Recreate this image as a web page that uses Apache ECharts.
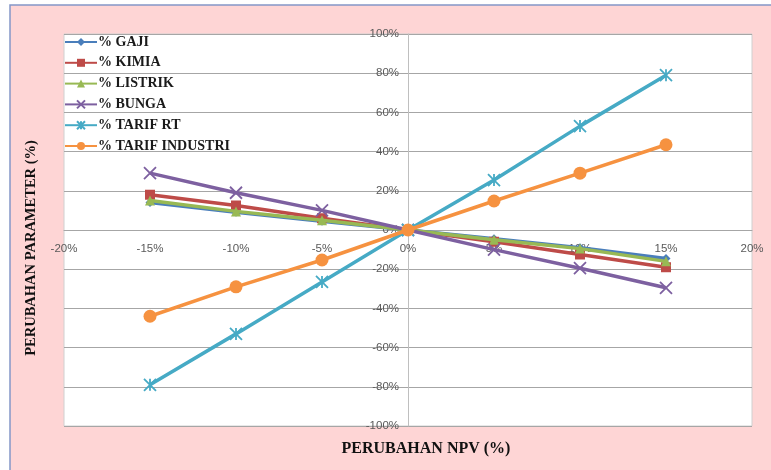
<!DOCTYPE html>
<html>
<head>
<meta charset="utf-8">
<script src="https://cdn.jsdelivr.net/npm/echarts@6/dist/echarts.min.js"></script>
<style>
  html, body { margin: 0; padding: 0; background: #ffffff; }
  #chart { width: 771px; height: 470px; }
</style>
</head>
<body>
<div id="chart"></div>
<script>
// NPV sensitivity: change in parameter (%) against change in NPV (%)
const npvChange = [-15, -10, -5, 0, 5, 10, 15];

const gaji          = [14, 9, 4.5, 0, -4.5, -9, -14.5];
const kimia         = [18, 12.5, 6, 0, -6, -12.5, -19];
const listrik       = [15, 9.5, 5, 0, -5, -9.5, -16];
const bunga         = [29, 19, 10, 0, -10, -19.5, -29.5];
const tarifRT       = [-79, -53, -26.5, 0, 25.5, 53, 79];
const tarifIndustri = [-44, -29, -15.3, 0, 14.8, 29, 43.5];

const seriesNames = ['% GAJI', '% KIMIA', '% LISTRIK', '% BUNGA', '% TARIF RT', '% TARIF INDUSTRI'];
const seriesValues = [gaji, kimia, listrik, bunga, tarifRT, tarifIndustri];
const seriesColors = ['#4A7EBB', '#BE4B48', '#98B954', '#7D60A0', '#46AAC5', '#F69240'];

const xPath = 'path://M0,0L10,10M10,0L0,10';
const starPath = 'path://M0,0L10,10M10,0L0,10M5,0L5,10';
const symbols = ['diamond', 'rect', 'triangle', xPath, starPath, 'circle'];
const symbolSizes = [9, 10, 10, 12, 12, 13];
const strokeOnly = [false, false, false, true, true, false];

// grid geometry; the axes cross at the origin of the value ranges
const gridLeft = 64, gridRight = 19, gridTop = 34, gridBottom = 44;
const W = 771, H = 470;
const xMin = -20, xMax = 20, yMin = -100, yMax = 100;
const plotW = W - gridLeft - gridRight, plotH = H - gridTop - gridBottom;
const yAxisShift = plotW * (0 - xMin) / (xMax - xMin);
const xAxisShift = plotH * (0 - yMin) / (yMax - yMin);

function pairs(vals) {
  return npvChange.map((x, i) => [x, vals[i]]);
}

const chart = echarts.init(document.getElementById('chart'), null, { renderer: 'canvas' });

const series = seriesNames.map((name, i) => ({
  name: name,
  type: 'line',
  data: pairs(seriesValues[i]),
  symbol: symbols[i],
  symbolSize: symbolSizes[i],
  showAllSymbol: true,
  lineStyle: { color: seriesColors[i], width: 3.5 },
  itemStyle: strokeOnly[i]
    ? { color: seriesColors[i], borderColor: seriesColors[i], borderWidth: 1.8 }
    : { color: seriesColors[i], borderColor: seriesColors[i], borderWidth: 0 },
  emphasis: { disabled: true },
  z: 2 + i
}));

const option = {
  animation: false,
  backgroundColor: '#ffffff',
  graphic: [
    {
      type: 'rect',
      shape: { x: 10, y: 5, width: 800, height: 520 },
      style: { fill: '#FED5D5', stroke: '#8496C8', lineWidth: 1.5 },
      z: -10
    },
    {
      type: 'text',
      x: 426, y: 449,
      style: {
        text: 'PERUBAHAN NPV (%)',
        font: 'bold 16px "Liberation Serif", "Times New Roman", serif',
        fill: '#111111',
        align: 'center',
        verticalAlign: 'middle'
      }
    },
    {
      type: 'text',
      x: 31, y: 248,
      rotation: Math.PI / 2,
      style: {
        text: 'PERUBAHAN PARAMETER (%)',
        font: 'bold 14.5px "Liberation Serif", "Times New Roman", serif',
        fill: '#111111',
        align: 'center',
        verticalAlign: 'middle'
      }
    }
  ],
  grid: {
    left: gridLeft, right: gridRight, top: gridTop, bottom: gridBottom,
    show: true,
    backgroundColor: '#ffffff',
    borderColor: '#D0D0D0',
    borderWidth: 1
  },
  legend: {
    orient: 'vertical',
    left: 64, top: 35,
    padding: 0,
    itemWidth: 32, itemHeight: 10,
    itemGap: 6.8,
    data: seriesNames,
    textStyle: {
      fontFamily: '"Liberation Serif", "Times New Roman", serif',
      fontWeight: 'bold',
      fontSize: 14,
      color: '#1a1a1a',
      padding: [0, 0, 0, -4]
    }
  },
  xAxis: {
    type: 'value',
    min: xMin, max: xMax, interval: 5,
    offset: -xAxisShift,
    axisLine: { onZero: false, lineStyle: { color: '#A6A6A6', width: 1 } },
    axisTick: { show: false },
    splitLine: { show: false },
    axisLabel: {
      formatter: v => v + '%',
      color: '#595959',
      fontFamily: '"Liberation Sans", Arial, sans-serif',
      fontSize: 11.5,
      margin: 13
    }
  },
  yAxis: {
    type: 'value',
    min: yMin, max: yMax, interval: 20,
    offset: -yAxisShift,
    axisLine: { show: true, onZero: false, lineStyle: { color: '#BFBFBF', width: 1 } },
    axisTick: { show: false },
    splitLine: { show: true, lineStyle: { color: '#A6A6A6', width: 1 } },
    axisLabel: {
      formatter: v => v + '%',
      color: '#595959',
      fontFamily: '"Liberation Sans", Arial, sans-serif',
      fontSize: 11.5,
      margin: 9
    }
  },
  series: series
};

chart.setOption(option);
</script>
</body>
</html>
